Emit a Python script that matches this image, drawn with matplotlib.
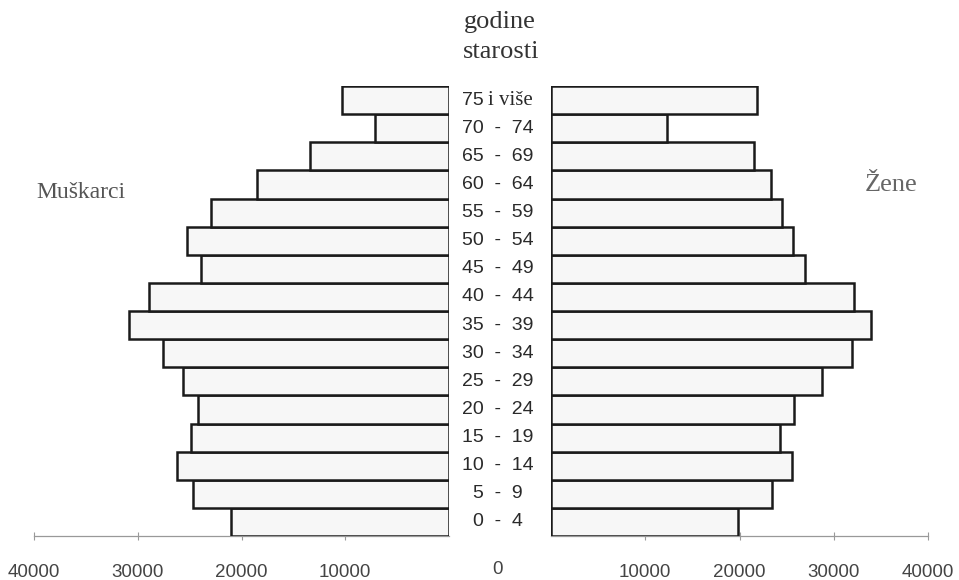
import matplotlib.pyplot as plt
import matplotlib.transforms as mtransforms
import numpy as np

# age groups from youngest to oldest
age_groups = ["0  -  4", "5  -  9", "10  -  14", "15  -  19", "20  -  24",
              "25  -  29", "30  -  34", "35  -  39", "40  -  44", "45  -  49",
              "50  -  54", "55  -  59", "60  -  64", "65  -  69", "70  -  74",
              "75 i više"]
muskarci = [21000, 24700, 26200, 24900, 24200, 25600, 27600, 30800,
            28900, 23900, 25300, 22900, 18500, 13400, 7100, 10300]
zene = [19800, 23400, 25600, 24300, 25800, 28800, 31900, 33900,
        32200, 27000, 25700, 24500, 23300, 21500, 12300, 21900]
ticks_l = [40000, 30000, 20000, 10000]
ticks_r = [10000, 20000, 30000, 40000]

W, H = 959, 580
fig = plt.figure(figsize=(W / 100, H / 100), dpi=100)

def fx(px):
    return px / W

def fy(py):
    return 1 - py / H

bottom = fy(536)
height = fy(86) - bottom
ax_l = fig.add_axes([fx(34), bottom, fx(449) - fx(34), height])
ax_r = fig.add_axes([fx(551), bottom, fx(928) - fx(551), height])

y = np.arange(len(age_groups))
fill = "#f7f7f7"
ax_l.barh(y, muskarci, height=1.0, color=fill, edgecolor="#1a1a1a",
          linewidth=1.8, zorder=3)
ax_r.barh(y, zene, height=1.0, color=fill, edgecolor="#1a1a1a",
          linewidth=1.8, zorder=3)

ax_l.set_xlim(40000, 0)
ax_r.set_xlim(0, 40000)
for ax, ticks in ((ax_l, ticks_l), (ax_r, ticks_r)):
    ax.set_ylim(-0.5, len(age_groups) - 0.5)
    ax.set_yticks([])
    for s in ("top", "left", "right"):
        ax.spines[s].set_visible(False)
    ax.spines["bottom"].set_color("#999999")
    ax.spines["bottom"].set_linewidth(0.9)
    ax.set_xticks(ticks)
    ax.set_xticklabels([f"{t}" for t in ticks], family="Liberation Sans",
                       fontsize=13.5, color="#444444")
    ax.tick_params(axis="x", direction="inout", length=6, width=0.8,
                   color="#999999", pad=17)
    ax.patch.set_visible(False)

fig.text(fx(497), fy(570), "0", ha="center", va="center",
         family="Liberation Sans", fontsize=13.5, color="#444444")

# age labels between the two halves
trans = mtransforms.blended_transform_factory(fig.transFigure, ax_r.transData)
for i, lab in enumerate(age_groups):
    if lab.startswith("75"):
        ax_r.text(fx(462), i, "75", transform=trans, ha="left", va="center",
                  family="Liberation Sans", fontsize=14, color="#2a2a2a")
        ax_r.text(fx(488), i, "i više", transform=trans, ha="left",
                  va="center", family="Liberation Serif", fontsize=15,
                  color="#2a2a2a")
    else:
        ax_r.text(fx(498), i, lab, transform=trans, ha="center", va="center",
                  family="Liberation Sans", fontsize=14, color="#2a2a2a")

fig.text(fx(500), fy(22), "godine", ha="center", va="center",
         family="Liberation Serif", fontsize=19, color="#333333")
fig.text(fx(501), fy(52), "starosti", ha="center", va="center",
         family="Liberation Serif", fontsize=19, color="#333333")
fig.text(fx(81), fy(192), "Muškarci", ha="center", va="center",
         family="Liberation Serif", fontsize=17, color="#555555")
fig.text(fx(891), fy(185), "Žene", ha="center", va="center",
         family="Liberation Serif", fontsize=19, color="#666666")

fig.savefig("out.png", dpi=100)
